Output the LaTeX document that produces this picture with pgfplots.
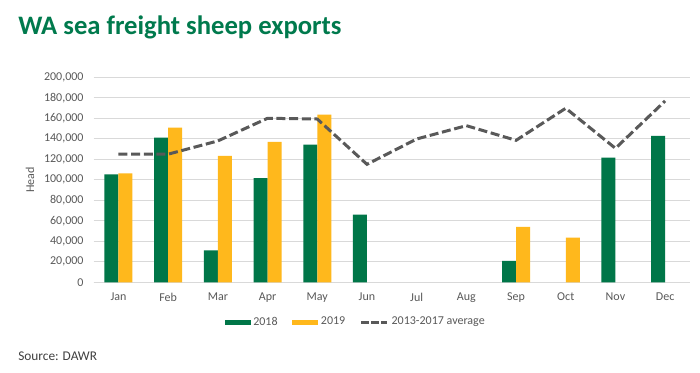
\documentclass[border=0pt]{standalone}
\usepackage{pgfplots}
\pgfplotsset{compat=1.18}
\usepackage{fontspec}
\setmainfont{Carlito}
\definecolor{cgreen}{RGB}{0,118,72}
\definecolor{cyellow}{RGB}{255,184,28}
\definecolor{cline}{RGB}{89,89,89}
\definecolor{cgrid}{RGB}{217,217,217}
\definecolor{ctext}{RGB}{89,89,89}
\definecolor{ctitle}{RGB}{0,122,77}
\begin{document}
\begin{tikzpicture}
\path[use as bounding box, fill=white] (0,0) rectangle (525pt,279.75pt);
\node[anchor=base west, font=\fontsize{20}{24}\selectfont\bfseries, text=ctitle, inner sep=0pt] at (13.5pt,253.5pt) {WA sea freight sheep exports};
\node[rotate=90, font=\fontsize{9}{11}\selectfont, text=ctext] at (22.5pt,144.75pt) {Head};
\node[anchor=base west, font=\fontsize{10}{12}\selectfont, text=black!75, inner sep=0pt] at (13.5pt,9pt) {Source: DAWR};
\begin{axis}[
  at={(70.2pt,68.03pt)}, anchor=south west,
  scale only axis, width=447.3pt, height=153.75pt,
  xmin=-0.5, xmax=11.5, ymin=0, ymax=200000,
  xtick={0,...,11},
  xticklabels={Jan,Feb,Mar,Apr,May,Jun,Jul,Aug,Sep,Oct,Nov,Dec},
  ytick={0,20000,40000,60000,80000,100000,120000,140000,160000,180000,200000},
  yticklabels={0,{20,000},{40,000},{60,000},{80,000},{100,000},{120,000},{140,000},{160,000},{180,000},{200,000}},
  scaled y ticks=false,
  ymajorgrids, grid style={cgrid, line width=0.75pt},
  axis x line*=bottom, axis y line*=left,
  y axis line style={draw=none},
  x axis line style={cgrid, line width=0.75pt, -},
  major tick length=0pt,
  tick label style={font=\fontsize{9}{11}\selectfont, text=ctext},
  xticklabel style={yshift=-4.5pt},
  yticklabel style={xshift=-4pt},
  clip=false,
  legend columns=3,
  legend style={draw=none, fill=none, at={(0.44,-0.194)}, anchor=center,
    font=\fontsize{9}{11}\selectfont, text=ctext,
    /tikz/every even column/.append style={column sep=9pt}},
]
\addplot[ybar, bar width=10.5pt, bar shift=-5.25pt, fill=cgreen, draw=none,
  legend image code/.code={\fill[cgreen] (0pt,-1.9pt) rectangle (19.5pt,1.9pt);}]
  coordinates {(0,105400) (1,141100) (2,31200) (3,101500) (4,134300) (5,66000) (8,20800) (10,121600) (11,142800)};
\addlegendentry{2018}
\addplot[ybar, bar width=10.5pt, bar shift=5.25pt, fill=cyellow, draw=none,
  legend image code/.code={\fill[cyellow] (0pt,-1.9pt) rectangle (19.5pt,1.9pt);}]
  coordinates {(0,106300) (1,150900) (2,123300) (3,136900) (4,163600) (8,54000) (9,43600)};
\addlegendentry{2019}
\addplot[sharp plot, cline, line width=2.25pt, dash pattern=on 6.75pt off 2.75pt,
  legend image code/.code={\draw[cline, line width=2.25pt, dash pattern=on 6pt off 1.5pt] (0pt,0pt) -- (19.5pt,0pt);}]
  coordinates {(0,125000) (1,125000) (2,137900) (3,160000) (4,159300) (5,115100) (6,139800) (7,152800) (8,138500) (9,169800) (10,130700) (11,176900)};
\addlegendentry{2013-2017 average}
\end{axis}
\end{tikzpicture}
\end{document}
